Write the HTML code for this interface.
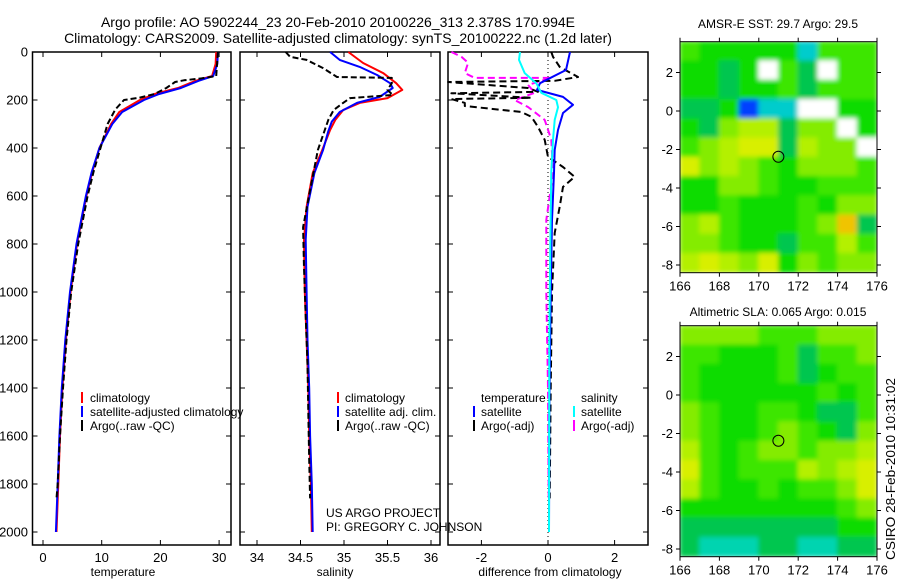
<!DOCTYPE html>
<html><head><meta charset="utf-8"><style>
body{margin:0;background:#fff;}
svg{display:block;font-family:"Liberation Sans",sans-serif;}
text{fill:#000;}
</style></head><body>
<svg id="fig" width="900" height="580" viewBox="0 0 900 580">
<defs>
<filter id="blur" x="-5%" y="-5%" width="110%" height="110%"><feGaussianBlur stdDeviation="2.5"/></filter>
<clipPath id="clipMap1"><rect x="680" y="41.7" width="197" height="231"/></clipPath>
<clipPath id="clipMap2"><rect x="680" y="325.7" width="197" height="231"/></clipPath>
</defs>
<text x="338" y="27" font-size="14" text-anchor="middle">Argo profile: AO 5902244_23 20-Feb-2010 20100226_313 2.378S 170.994E</text>
<text x="338" y="43" font-size="14" text-anchor="middle">Climatology: CARS2009. Satellite-adjusted climatology: synTS_20100222.nc (1.2d later)</text>

<g id="g1"></g>
<g id="g2"></g>
<g id="g3"></g>
<g id="gm1"></g>
<g id="gm2"></g>

<text x="123" y="576" font-size="12" text-anchor="middle">temperature</text>
<text x="335" y="576" font-size="12" text-anchor="middle">salinity</text>
<text x="550" y="576" font-size="12" text-anchor="middle">difference from climatology</text>

<g font-size="12">
<rect x="81" y="392" width="2" height="11" fill="#f00"/><text x="90" y="402">climatology</text>
<rect x="81" y="406" width="2" height="11" fill="#00f"/><text x="90" y="416">satellite-adjusted climatology</text>
<rect x="81" y="420" width="2" height="11" fill="#000"/><text x="90" y="430">Argo(..raw -QC)</text>
</g>
<g font-size="12">
<rect x="337" y="392" width="2" height="11" fill="#f00"/><text x="345" y="402">climatology</text>
<rect x="337" y="406" width="2" height="11" fill="#00f"/><text x="345" y="416">satellite adj. clim.</text>
<rect x="337" y="420" width="2" height="11" fill="#000"/><text x="345" y="430">Argo(..raw -QC)</text>
</g>
<g font-size="12">
<text x="481" y="402">temperature</text>
<rect x="473" y="406" width="2" height="11" fill="#00f"/><text x="481" y="416">satellite</text>
<rect x="473" y="420" width="2" height="11" fill="#000"/><text x="481" y="430">Argo(-adj)</text>
<text x="581" y="402">salinity</text>
<rect x="573" y="406" width="2" height="11" fill="#0ff"/><text x="581" y="416">satellite</text>
<rect x="573" y="420" width="2" height="11" fill="#f0f"/><text x="581" y="430">Argo(-adj)</text>
</g>
<text x="326" y="517" font-size="12">US ARGO PROJECT</text>
<text x="326" y="531" font-size="12">PI: GREGORY C. JOHNSON</text>

<text x="778" y="28" font-size="12" text-anchor="middle">AMSR-E SST: 29.7 Argo: 29.5</text>
<text x="778" y="316" font-size="12" text-anchor="middle">Altimetric SLA: 0.065 Argo: 0.015</text>
<text transform="translate(895,560) rotate(-90)" font-size="13" textLength="182" lengthAdjust="spacingAndGlyphs">CSIRO 28-Feb-2010 10:31:02</text>
</svg>
<script>
// ---- data ----
const depthTicks = [0,200,400,600,800,1000,1200,1400,1600,1800,2000];
const tempTicks = [0,10,20,30];
const salTicks = [34,34.5,35,35.5,36];
const salTickLabels = ["34","34.5","35","35.5","36"];
const diffTicks = [-2,0,2];

const climTDepth = [0,50,100,120,150,175,200,250,300,400,500,600,800,1000,1200,1400,1600,1800,2000];
const climT = [29.5,29.4,28.8,26,23,19,16.5,13,11.6,9.6,8.4,7.4,5.8,4.7,3.9,3.3,2.9,2.6,2.3];
const satT = [29.8,29.7,29.0,26.5,23.5,19.8,17.2,13.5,11.8,9.6,8.3,7.3,5.7,4.6,3.8,3.2,2.8,2.5,2.2];
const argoTDepth = [0,100,110,118,125,150,175,190,200,240,300,400,500,600,800,1000,1200,1400,1600,1800,1860];
const argoT = [29.8,29.5,27,24,22.5,21,19,16.5,13.8,12.3,11,9.8,8.6,7.6,6.0,4.8,4.0,3.4,2.9,2.5,2.3];

const climSDepth = [0,46,88,130,158,192,212,242,283,325,408,504,645,783,1000,1200,1400,1600,1800,2000];
const climS = [35.05,35.22,35.45,35.6,35.67,35.5,35.18,34.99,34.9,34.84,34.75,34.64,34.57,34.54,34.55,34.57,34.59,34.6,34.62,34.63];
const satSDepth = [0,33,62,96,130,150,187,212,250,290,330,408,504,645,783,1000,1200,1400,1600,1800,2000];
const satS = [34.84,34.95,35.18,35.38,35.53,35.56,35.41,35.15,34.95,34.86,34.82,34.76,34.66,34.58,34.56,34.57,34.58,34.6,34.61,34.63,34.64];
const argoSDepth = [0,20,33,67,104,108,130,158,179,192,212,242,283,408,575,730,900,1100,1300,1500,1700,1860];
const argoS = [34.33,34.38,34.57,34.76,34.92,35.55,35.55,35.5,35.56,35.07,34.99,34.88,34.82,34.7,34.61,34.53,34.54,34.56,34.58,34.59,34.6,34.61];

const tSatDiffDepth = [0,75,130,158,187,220,254,325,408,504,700,1000,1500,2000];
const tSatDiff = [0.66,0.54,-0.24,-0.33,0.45,0.75,0.45,0.3,0.2,0.18,0.12,0.08,0.04,0.03];
const sSatDiffDepth = [0,33,88,130,170,200,230,283,366,500,800,1200,2000];
const sSatDiff = [-0.84,-0.87,-0.7,-0.35,-0.2,0.25,0.3,0.2,0.15,0.1,0.07,0.04,0.03];
const sArgoDiffDepth = [0,20,45,88,108,108,137,170,200,229,283,366,504,700,1000,1400,1860];
const sArgoDiff = [-2.9,-2.6,-2.4,-2.5,-2.2,0.1,-0.6,-0.4,-1.0,-0.6,-0.1,0.1,0.15,-0.05,-0.05,0.0,0.02];
const tArgoDiffDepth = [0,20,62,104,120,125,150,166,172,191,196,212,225,250,270,312,366,437,479,520,562,645,754,1000,1400,1860];
const tArgoDiff = [0.1,0.15,0.35,0.9,0.2,-3.0,-0.6,-0.3,-2.9,-0.5,-2.9,-2.5,-2.5,-0.8,-0.5,-0.3,-0.1,0.0,0.45,0.8,0.45,0.35,0.2,0.12,0.08,0.05];

const mapLonTicks = [166,168,170,172,174,176];
const mapLatTicks = [2,0,-2,-4,-6,-8];
const floatLon = 170.994;
const floatLat = -2.378;
const sstRows = ["322222c333","2212w31w33","2212231333","112bccww22","21455144w2","345661544w","6454324443","2244322333","2232223244","4532223471","4432213353","5654624344"];
const slaRows = ["4444333444","3322231334","3222231233","3222222323","4322332113","4322343214","5323443445","6323335456","5322323346","2222222234","1111111122","1000110011"];
const palette = {"0":"#00d4b0","1":"#00c650","2":"#08dc00","3":"#3ee600","4":"#84ec00","5":"#b4f000","6":"#d8ef00","7":"#f0c400","w":"#ffffff","c":"#00cccc","b":"#0040ff"};

// ---- helpers ----
const NS = "http://www.w3.org/2000/svg";
function mk(tag, attrs, parent){ const e=document.createElementNS(NS,tag); for(const k in attrs) e.setAttribute(k,attrs[k]); parent.appendChild(e); return e; }
const yD = d => 52 + d*0.24;

function panel(g, x0, x1, fx, ticks, labels, showY){
  const fr = mk('rect',{x:x0,y:52,width:x1-x0,height:493,fill:'none',stroke:'#000','stroke-width':1.5},g);
  
  
  ticks.forEach((t,i)=>{
    const x=fx(t);
    mk('line',{x1:x,y1:545,x2:x,y2:540,stroke:'#000'},g);
    mk('line',{x1:x,y1:52,x2:x,y2:57,stroke:'#000'},g);
    const tx=mk('text',{x:x,y:562,'font-size':13,'text-anchor':'middle'},g);
    tx.textContent=labels[i];
    
    
  });
  depthTicks.forEach(d=>{
    const y=yD(d);
    mk('line',{x1:x0,y1:y,x2:x0+5,y2:y,stroke:'#000'},g);
    mk('line',{x1:x1,y1:y,x2:x1-5,y2:y,stroke:'#000'},g);
    if(showY){
      const tx=mk('text',{x:28,y:y+4.5,'font-size':13,'text-anchor':'end'},g);
      tx.textContent=d;
      
      
    }
  });
}
function series(g, depths, vals, fx, color, dash, name){
  const pts = depths.map((d,i)=>fx(vals[i]).toFixed(1)+','+yD(d).toFixed(1)).join(' ');
  const p = mk('polyline',{points:pts,fill:'none',stroke:color,'stroke-width':2,'stroke-linejoin':'round'},g);
  if(dash) p.setAttribute('stroke-dasharray',dash);
  
  
}

// panel 1
const g1=document.getElementById('g1');
const fT = v => 43 + v*5.87;
panel(g1,32.5,231,fT,tempTicks,tempTicks.map(String),true);
series(g1,climTDepth,climT,fT,'#f00',null,'climatology-temperature-line');
series(g1,climTDepth,satT,fT,'#00f',null,'satellite-temperature-line');
series(g1,argoTDepth,argoT,fT,'#000','6,3','argo-temperature-line');

// panel 2
const g2=document.getElementById('g2');
const fS = v => 344 + (v-35)*87;
panel(g2,240,440,fS,salTicks,salTickLabels,false);
series(g2,climSDepth,climS,fS,'#f00',null,'climatology-salinity-line');
series(g2,satSDepth,satS,fS,'#00f',null,'satellite-salinity-line');
series(g2,argoSDepth,argoS,fS,'#000','6,3','argo-salinity-line');

// panel 3
const g3=document.getElementById('g3');
const fDf = v => 548 + v*33.3;
panel(g3,448,648,fDf,diffTicks,diffTicks.map(String),false);
const zl=mk('line',{x1:fDf(0),y1:52,x2:fDf(0),y2:545,stroke:'#000','stroke-dasharray':'1,3'},g3);


series(g3,sArgoDiffDepth,sArgoDiff,fDf,'#f0f','7,4','salinity-argo-diff-line');
series(g3,tArgoDiffDepth,tArgoDiff,fDf,'#000','7,4','temperature-argo-diff-line');
series(g3,tSatDiffDepth,tSatDiff,fDf,'#00f',null,'temperature-satellite-diff-line');
series(g3,sSatDiffDepth,sSatDiff,fDf,'#0ff',null,'salinity-satellite-diff-line');

// maps
function map(g, y0, rows, clip){
  const fx = lon => 680 + (lon-166)*19.7;
  const fy = lat => y0 + (3.6-lat)*19.25;
  const cg = mk('g',{'clip-path':'url(#'+clip+')'},g);
  const inner = mk('g',{filter:'url(#blur)'},cg);
  rows.forEach((row,r)=>{
    for(let c=0;c<row.length;c++){
      const x=fx(166+c), y=fy(3.6-r);
      const cell=mk('rect',{x:x-0.5,y:y-0.5,width:20.7,height:20.25,fill:palette[row[c]]},inner);
      
      
    }
  });
  const fr=mk('rect',{x:680,y:y0,width:197,height:231,fill:'none',stroke:'#000','stroke-width':1},g);
  
  
  mapLonTicks.forEach(l=>{
    const x=fx(l);
    mk('line',{x1:x,y1:y0+231,x2:x,y2:y0+235,stroke:'#000'},g);
    mk('line',{x1:x,y1:y0,x2:x,y2:y0-4,stroke:'#000'},g);
    const t=mk('text',{x:x,y:y0+249,'font-size':13,'text-anchor':'middle'},g);
    t.textContent=l;
    
    
  });
  mapLatTicks.forEach(l=>{
    const y=fy(l);
    mk('line',{x1:680,y1:y,x2:676,y2:y,stroke:'#000'},g);
    mk('line',{x1:877,y1:y,x2:881,y2:y,stroke:'#000'},g);
    const t=mk('text',{x:673,y:y+4.5,'font-size':13,'text-anchor':'end'},g);
    t.textContent=l;
    
    
  });
  const m=mk('circle',{cx:fx(floatLon),cy:fy(floatLat),r:5.5,fill:'none',stroke:'#000','stroke-width':1},g);
  
  
}
map(document.getElementById('gm1'),41.7,sstRows,'clipMap1');
map(document.getElementById('gm2'),325.7,slaRows,'clipMap2');
</script>
</body></html>
